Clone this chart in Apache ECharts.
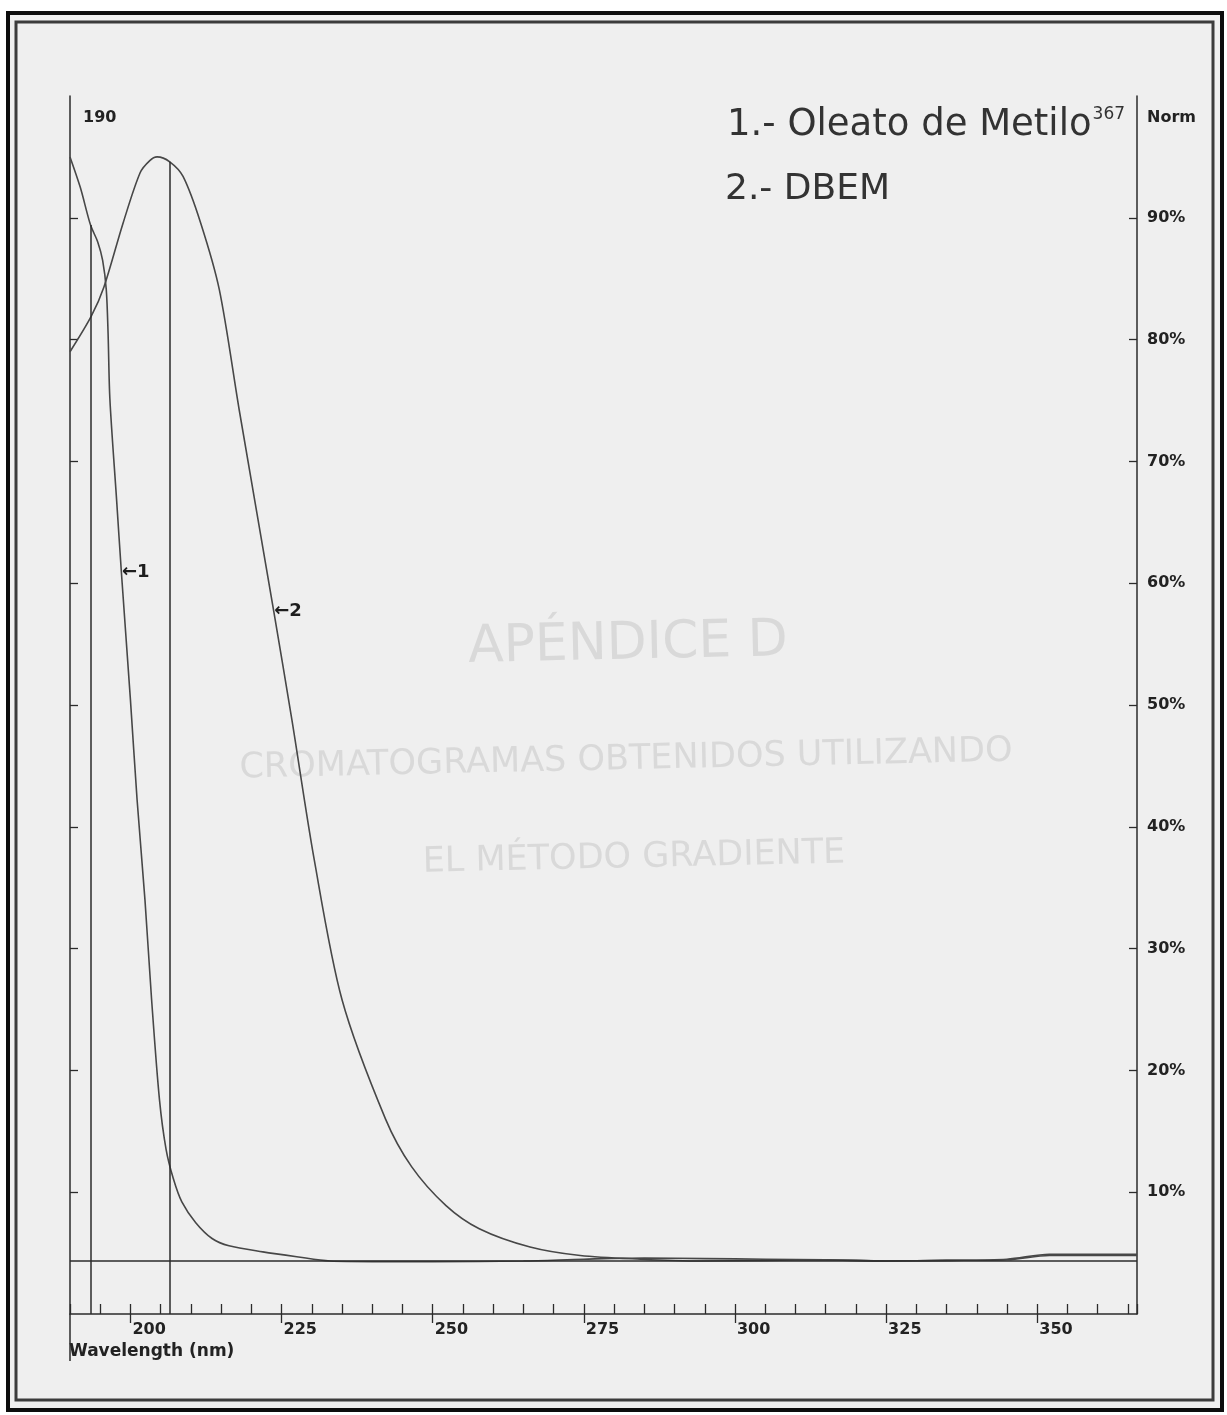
<!DOCTYPE html>
<html>
<head>
<meta charset="utf-8">
<title>Espectro UV – Oleato de Metilo / DBEM</title>
<script src="https://cdn.jsdelivr.net/npm/echarts@6/dist/echarts.min.js"></script>
<style>
  html, body { margin: 0; padding: 0; background: #ffffff; }
  #chart { width: 1227px; height: 1415px; }
</style>
</head>
<body>
<div id="chart"></div>
<script>
// Wavelength range of the scan (nm) and normalised absorbance (%)
const wlMin = 190;
const wlMax = 366.5;
const majorTicks = [200, 225, 250, 275, 300, 325, 350];
const pctTicks = [10, 20, 30, 40, 50, 60, 70, 80, 90];

// 1.- Oleato de Metilo
const oleatoNm  = [190.0, 191.7, 193.4, 194.6, 195.4, 196.0, 196.3, 196.6, 197.7, 198.5,
                   200.0, 201.1, 202.4, 203.5, 204.8, 205.9, 207.1, 208.5, 210.8, 213.5,
                   216.3, 221.9, 227.5, 233.0, 240.0, 250.0, 265.0, 275.0, 285.0, 295.0,
                   305.0, 315.0, 325.0, 335.0, 345.0, 352.0, 360.0, 366.5];
const oleatoPct = [95.0, 92.5, 89.4, 88.0, 86.5, 84.1, 80.5, 75.1, 66.9, 60.9,
                   50.4, 42.2, 34.0, 25.8, 17.6, 13.5, 11.1, 9.2, 7.5, 6.2,
                   5.6, 5.1, 4.7, 4.35, 4.3, 4.3, 4.35, 4.5, 4.6, 4.55,
                   4.5, 4.45, 4.35, 4.4, 4.45, 4.8, 4.8, 4.8];

// 2.- DBEM
const dbemNm  = [190.0, 193.5, 195.6, 198.8, 201.6, 203.2, 204.4, 206.5, 208.7, 211.6,
                 214.7, 218.0, 223.7, 226.7, 230.4, 235.0, 242.2, 246.5, 252.2,
                 257.7, 266.1, 274.4, 284.4, 294.3, 305.0, 315.0, 325.0, 335.0, 345.0,
                 352.0, 360.0, 366.5];
const dbemPct = [79.0, 81.9, 84.3, 89.6, 93.7, 94.7, 95.0, 94.6, 93.4, 89.6,
                 84.1, 74.2, 57.7, 48.8, 37.3, 25.8, 16.0, 12.1, 8.9,
                 7.0, 5.5, 4.8, 4.5, 4.35, 4.4, 4.45, 4.35, 4.4, 4.5,
                 4.9, 4.9, 4.9];

// Cursor lines (nm) and the height where each meets its spectrum (%)
const cursorNm  = [193.4, 206.5];
const cursorPct = [89.4, 94.6];

// Baseline level (%)
const baselinePct = 4.35;

// Index of the point each curve tag points at
const tagIndexOleato = 9;
const tagIndexDbem = 12;

const ink = '#2b2b2b';
const curveInk = '#474747';
const labelFont = 'DejaVu Sans';

const toPairs = (xs, ys) => xs.map((x, i) => [x, ys[i]]);

const tagLabel = text => ({
  show: true,
  position: 'right',
  distance: 0,
  formatter: '\u2190' + text,
  fontFamily: labelFont,
  fontWeight: 'bold',
  fontSize: 18,
  color: '#1e1e1e'
});

const option = {
  backgroundColor: '#ffffff',
  animation: false,
  grid: { left: 70, right: 90, top: 96, bottom: 101, containLabel: false },
  xAxis: [
    {
      type: 'value', min: wlMin, max: wlMax, interval: 5, position: 'bottom',
      axisLine: { show: true, lineStyle: { color: ink, width: 1.5 } },
      axisTick: { show: true, inside: true, length: 10, lineStyle: { color: ink, width: 1.3 } },
      axisLabel: { show: false },
      splitLine: { show: false }
    },
    {
      type: 'value', min: wlMin, max: wlMax, position: 'bottom',
      axisLine: { show: false },
      axisTick: { show: true, inside: false, length: 9, customValues: majorTicks,
                  lineStyle: { color: ink, width: 1.3 } },
      axisLabel: { show: true, customValues: majorTicks, align: 'left', margin: 8,
                   padding: [0, 0, 0, 2], fontFamily: labelFont, fontWeight: 'bold',
                   fontSize: 16, color: '#222' },
      splitLine: { show: false }
    }
  ],
  yAxis: [
    {
      type: 'value', min: 0, max: 100, position: 'left',
      axisLine: { show: true, lineStyle: { color: ink, width: 1.5 } },
      axisTick: { show: true, inside: true, length: 8, customValues: pctTicks,
                  lineStyle: { color: ink, width: 1.3 } },
      axisLabel: { show: false },
      splitLine: { show: false }
    },
    {
      type: 'value', min: 0, max: 100, position: 'right',
      axisLine: { show: true, lineStyle: { color: ink, width: 1.5 } },
      axisTick: { show: true, inside: true, length: 8, customValues: pctTicks,
                  lineStyle: { color: ink, width: 1.3 } },
      axisLabel: { show: true, customValues: pctTicks, formatter: '{value}%', margin: 10,
                   fontFamily: labelFont, fontWeight: 'bold', fontSize: 16, color: '#222' },
      splitLine: { show: false }
    }
  ],
  series: [
    {
      name: '1.- Oleato de Metilo',
      type: 'line', xAxisIndex: 0, yAxisIndex: 1,
      data: toPairs(oleatoNm, oleatoPct),
      smooth: 0.3, showSymbol: false,
      lineStyle: { color: curveInk, width: 1.6 },
      markLine: {
        silent: true, symbol: 'none', animation: false,
        label: { show: false },
        lineStyle: { color: ink, width: 1.5, type: 'solid' },
        data: [
          { yAxis: baselinePct },
          [{ coord: [cursorNm[0], 0] }, { coord: [cursorNm[0], cursorPct[0]] }],
          [{ coord: [cursorNm[1], 0] }, { coord: [cursorNm[1], cursorPct[1]] }]
        ]
      },
      markPoint: {
        symbol: 'circle', symbolSize: 1, itemStyle: { color: 'rgba(0,0,0,0)' },
        label: tagLabel('1'),
        data: [{ coord: [oleatoNm[tagIndexOleato], oleatoPct[tagIndexOleato]] }]
      }
    },
    {
      name: '2.- DBEM',
      type: 'line', xAxisIndex: 0, yAxisIndex: 1,
      data: toPairs(dbemNm, dbemPct),
      smooth: 0.3, showSymbol: false,
      lineStyle: { color: curveInk, width: 1.6 },
      markPoint: {
        symbol: 'circle', symbolSize: 1, itemStyle: { color: 'rgba(0,0,0,0)' },
        label: tagLabel('2'),
        data: [{ coord: [dbemNm[tagIndexDbem], dbemPct[tagIndexDbem]] }]
      }
    }
  ]
};

const chart = echarts.init(document.getElementById('chart'), null, { renderer: 'canvas' });
chart.setOption(option);

// Corners of the plotting area, taken from the axes
const origin = chart.convertToPixel({ gridIndex: 0 }, [wlMin, 0]);
const topLeft = chart.convertToPixel({ gridIndex: 0 }, [wlMin, 100]);
const topRight = chart.convertToPixel({ gridIndex: 0 }, [wlMax, 100]);

const boldText = (x, y, text, size) => ({
  type: 'text', x: x, y: y, z: 5,
  style: { text: text, fontFamily: labelFont, fontWeight: 'bold', fontSize: size,
           fill: '#222', align: 'left', verticalAlign: 'middle' }
});

const faint = (x, y, text, size) => ({
  type: 'text', x: x, y: y, z: 1, rotation: 0.022,
  style: { text: text, fontFamily: labelFont, fontSize: size, fill: '#d9d9d9',
           align: 'center', verticalAlign: 'middle' }
});

chart.setOption({
  graphic: [
    // paper and double frame
    { type: 'rect', z: -10, shape: { x: 8, y: 13, width: 1214, height: 1397 },
      style: { fill: '#efefef', stroke: '#0d0d0d', lineWidth: 4 } },
    { type: 'rect', z: -9, shape: { x: 16, y: 22, width: 1197, height: 1378 },
      style: { fill: 'none', stroke: '#3c3c3c', lineWidth: 3 } },

    // faint page text
    faint(628, 645, 'APÉNDICE D', 52),
    faint(626, 760, 'CROMATOGRAMAS OBTENIDOS UTILIZANDO', 35),
    faint(634, 858, 'EL MÉTODO GRADIENTE', 35),

    // axis captions
    boldText(topLeft[0] + 13, topLeft[1] + 22, '190', 16),
    boldText(topRight[0] + 10, topRight[1] + 22, 'Norm', 16),
    boldText(origin[0] - 1, origin[1] + 38, 'Wavelength (nm)', 17),
    { type: 'line', z: 5, shape: { x1: origin[0], y1: origin[1], x2: origin[0], y2: origin[1] + 47 },
      style: { stroke: ink, lineWidth: 1.5 } },

    // series names
    {
      type: 'text', x: 727, y: 125, z: 5,
      style: {
        text: '{a|1.- Oleato de Metilo}{s|367}',
        align: 'left', verticalAlign: 'middle',
        rich: {
          a: { fontFamily: labelFont, fontSize: 37, fill: '#333333' },
          s: { fontFamily: labelFont, fontSize: 17, fill: '#333333', verticalAlign: 'top',
               padding: [0, 0, 14, 1] }
        }
      }
    },
    {
      type: 'text', x: 725, y: 190, z: 5,
      style: { text: '2.- DBEM', fontFamily: labelFont, fontSize: 36,
               fill: '#333333', align: 'left', verticalAlign: 'middle' }
    }
  ]
});
</script>
</body>
</html>
